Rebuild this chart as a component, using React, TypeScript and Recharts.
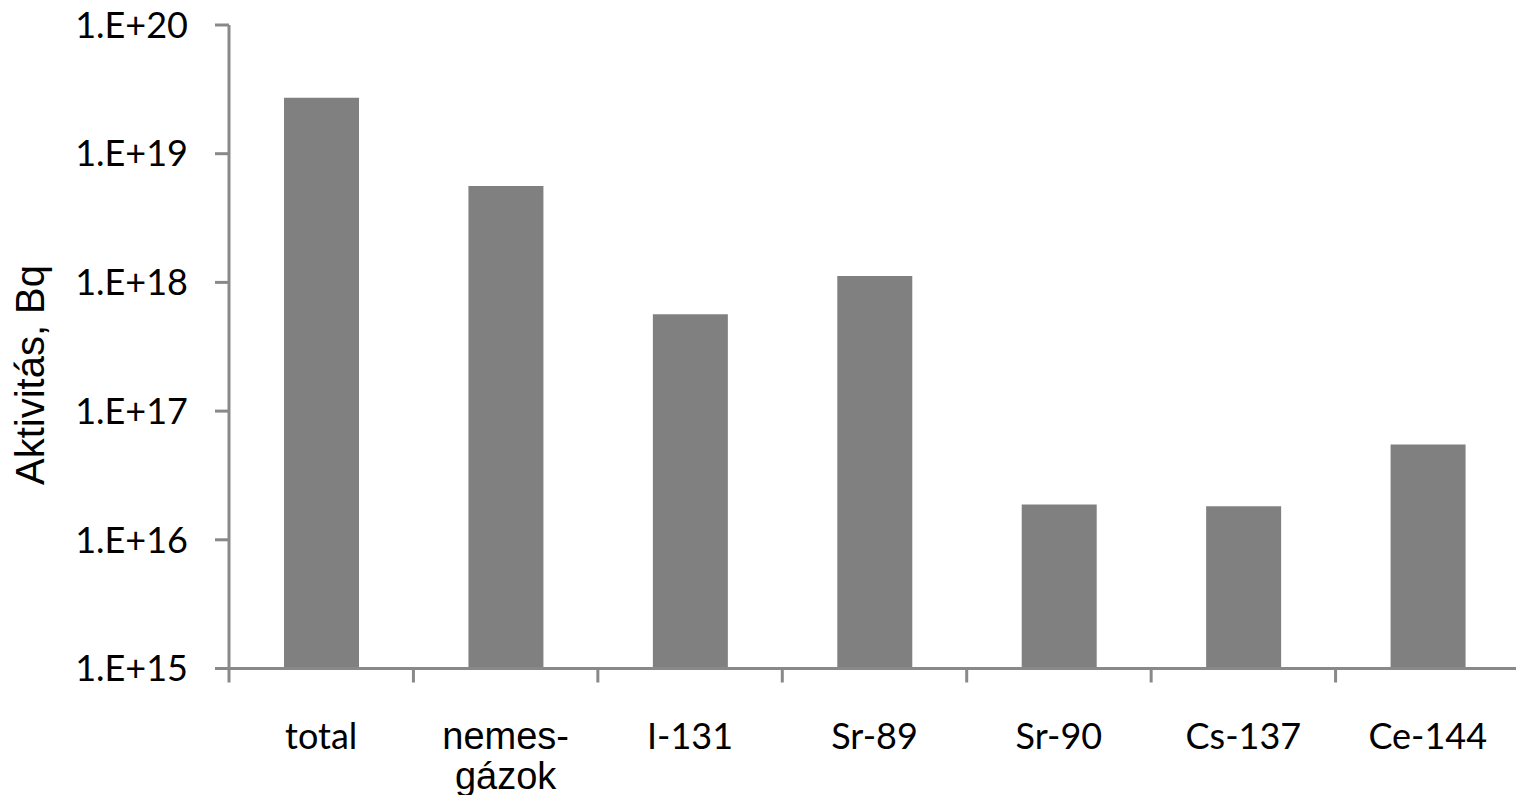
import React from 'react';
import { BarChart, Bar, XAxis, YAxis } from 'recharts';

// Kibocsátott aktivitás izotóponként (Bq), log skála
const categories = ['total', 'nemes-\ngázok', 'I-131', 'Sr-89', 'Sr-90', 'Cs-137', 'Ce-144'];
const activity = [2.72e19, 5.6e18, 5.65e17, 1.12e18, 1.88e16, 1.82e16, 5.5e16];
const yTicks = [1e15, 1e16, 1e17, 1e18, 1e19, 1e20];
const yTitle = 'Aktivitás, Bq';

const data = categories.map((name, i) => ({ name, value: activity[i] }));

const CHART_W = 1524;
const CHART_H = 795;
const PLOT_LEFT = 229;
const PLOT_RIGHT = 1520;
const BAND = (PLOT_RIGHT - PLOT_LEFT) / categories.length;
const AXIS_COLOR = '#898989';
const CALIBRI_LIKE = 'Lato, sans-serif';
const ARIAL_LIKE = '"Liberation Sans", Arial, sans-serif';

const formatExp = (v: number) => `1.E+${Math.round(Math.log10(v))}`;

const CategoryTick = (props: any) => {
  const { x, y, payload } = props;
  const lines = String(payload.value).split('\n');
  const twoLine = lines.length > 1;
  const left = x - BAND / 2;
  return (
    <g>
      <line x1={left} y1={y} x2={left} y2={y + 14} stroke={AXIS_COLOR} strokeWidth={3} />
      <text
        x={x}
        y={y + 80}
        textAnchor="middle"
        fill="#000"
        fontSize={twoLine ? 38 : 36}
        fontFamily={twoLine ? ARIAL_LIKE : CALIBRI_LIKE}
      >
        {lines.map((ln, i) => (
          <tspan key={i} x={x} dy={i === 0 ? 0 : 40}>{ln}</tspan>
        ))}
      </text>
    </g>
  );
};

const renderYTitle = () => (
  <text
    x={44}
    y={375}
    transform="rotate(-90 44 375)"
    textAnchor="middle"
    fill="#000"
    fontSize={40}
    fontFamily={ARIAL_LIKE}
  >
    {yTitle}
  </text>
);

export default function App() {
  return (
    <div style={{ position: 'absolute', left: 0, top: 0, width: 1516, height: 795, overflow: 'hidden', background: '#fff' }}>
      <BarChart
        width={CHART_W}
        height={CHART_H}
        data={data}
        margin={{ top: 25, right: CHART_W - PLOT_RIGHT, left: 0, bottom: 0 }}
      >
        <XAxis
          dataKey="name"
          height={126.5}
          interval={0}
          tickLine={false}
          tickSize={0}
          tickMargin={0}
          axisLine={{ stroke: AXIS_COLOR, strokeWidth: 3 }}
          tick={<CategoryTick />}
        />
        <YAxis
          scale="log"
          domain={[1e15, 1e20]}
          ticks={yTicks}
          allowDataOverflow
          width={PLOT_LEFT}
          tickSize={14}
          tickMargin={27}
          tickFormatter={formatExp}
          tick={{ fill: '#000', fontSize: 36, fontFamily: CALIBRI_LIKE }}
          tickLine={{ stroke: AXIS_COLOR, strokeWidth: 3 }}
          axisLine={{ stroke: AXIS_COLOR, strokeWidth: 3 }}
          label={{ content: renderYTitle }}
        />
        <Bar dataKey="value" fill="#808080" barSize={75} isAnimationActive={false} />
      </BarChart>
    </div>
  );
}
